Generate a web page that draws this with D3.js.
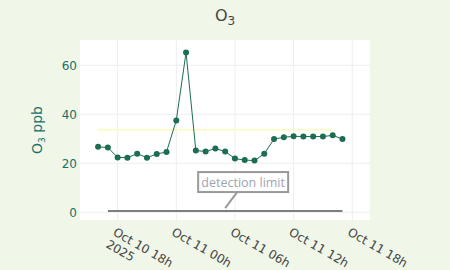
<!DOCTYPE html>
<html>
<head>
<meta charset="utf-8">
<script src="https://cdn.jsdelivr.net/npm/d3@7"></script>
<style>
  html, body { margin: 0; padding: 0; background: #f0f6e8; }
  svg { display: block; font-family: "DejaVu Sans", Verdana, sans-serif; }
</style>
</head>
<body>
<div id="chart"></div>
<script>
// hourly O3 readings, Oct 10 16h .. Oct 11 17h
const START = new Date(2025, 9, 10, 16)
const o3Values = [26.7, 26.4, 22.4, 22.3, 23.9, 22.3, 23.8, 24.6, 37.5, 65.2,
                  25.2, 24.8, 26.0, 24.8, 21.9, 21.3, 21.1, 23.9, 29.9, 30.6,
                  31.0, 30.9, 30.9, 30.9, 31.4, 29.9]
const refLevel = 33.7
const refStart = new Date(2025, 9, 10, 16), refEnd = new Date(2025, 9, 11, 16)
const detLimit = 0.5
const detStart = new Date(2025, 9, 10, 17), detEnd = new Date(2025, 9, 11, 17)
const annotAt = new Date(2025, 9, 11, 5)

const xTicks = [new Date(2025, 9, 10, 18), new Date(2025, 9, 11, 0), new Date(2025, 9, 11, 6),
                new Date(2025, 9, 11, 12), new Date(2025, 9, 11, 18)]
const xTickLabels = [['Oct 10 18h', '2025'], ['Oct 11 00h'], ['Oct 11 06h'], ['Oct 11 12h'], ['Oct 11 18h']]
const yTicks = [0, 20, 40, 60]

const data = o3Values.map((v, i) => ({ t: new Date(START.getTime() + i * 3600e3), v }))

const W = 450, H = 270
const M = { top: 40, right: 80, bottom: 50, left: 80 }

const svg = d3.select('#chart').append('svg').attr('width', W).attr('height', H)

const x = d3.scaleTime()
  .domain([new Date(2025, 9, 10, 14, 9), new Date(2025, 9, 11, 19, 49)])
  .range([M.left, W - M.right])
const y = d3.scaleLinear().domain([-3.15, 70.3]).range([H - M.bottom, M.top])

// plot background
svg.append('rect').attr('x', M.left).attr('y', M.top)
  .attr('width', W - M.left - M.right).attr('height', H - M.top - M.bottom).attr('fill', '#fff')

// ── grid ──────────────────────────────────────────
svg.append('g').selectAll('line').data(xTicks).join('line')
  .attr('x1', d => x(d)).attr('x2', d => x(d)).attr('y1', M.top).attr('y2', H - M.bottom)
  .attr('stroke', '#eee').attr('stroke-width', 1)
svg.append('g').selectAll('line').data(yTicks).join('line')
  .attr('x1', M.left).attr('x2', W - M.right).attr('y1', d => y(d)).attr('y2', d => y(d))
  .attr('stroke', '#eee').attr('stroke-width', 1)

// ── y axis labels ─────────────────────────────────
svg.append('g').selectAll('text').data(yTicks).join('text')
  .attr('x', M.left - 3).attr('y', d => y(d)).attr('dy', '0.36em')
  .attr('text-anchor', 'end').attr('fill', '#17706a').style('font-size', '12px')
  .text(d => d)

const yLab = svg.append('text')
  .attr('transform', `translate(42,${(M.top + H - M.bottom) / 2}) rotate(-90)`)
  .attr('text-anchor', 'middle').attr('fill', '#17706a').style('font-size', '14px')
yLab.append('tspan').text('O')
yLab.append('tspan').attr('dy', 3).style('font-size', '9px').text('3')
yLab.append('tspan').attr('dy', -3).text(' ppb')

// ── x axis labels ─────────────────────────────────
const xl = svg.append('g').selectAll('text').data(xTicks).join('text')
  .attr('transform', d => `translate(${x(d)},${H - M.bottom + 5}) rotate(30)`)
  .attr('fill', '#444').style('font-size', '12px')
xl.each(function (d, i) {
  const t = d3.select(this)
  xTickLabels[i].forEach((s, j) => {
    t.append('tspan').attr('x', 0).attr('y', 11 + j * 14).text(s)
  })
})

// ── reference line ────────────────────────────────
svg.append('line')
  .attr('x1', x(refStart)).attr('x2', x(refEnd)).attr('y1', y(refLevel)).attr('y2', y(refLevel))
  .attr('stroke', '#fafacb').attr('stroke-width', 2)

// ── detection limit ───────────────────────────────
svg.append('line')
  .attr('x1', x(detStart)).attr('x2', x(detEnd)).attr('y1', y(detLimit)).attr('y2', y(detLimit))
  .attr('stroke', '#7f7f7f').attr('stroke-width', 2)

// ── series ────────────────────────────────────────
svg.append('path').datum(data)
  .attr('d', d3.line().x(d => x(d.t)).y(d => y(d.v)))
  .attr('fill', 'none').attr('stroke', '#1b6e50').attr('stroke-width', 1)
svg.append('g').selectAll('circle').data(data).join('circle')
  .attr('cx', d => x(d.t)).attr('cy', d => y(d.v)).attr('r', 3)
  .attr('fill', '#1b6e50')

// ── annotation ────────────────────────────────────
const ax = x(annotAt), ay = y(detLimit)
const bx = ax + 18, by = ay - 29
svg.append('line')
  .attr('x1', ax).attr('y1', ay - 3).attr('x2', bx - 6).attr('y2', by + 10)
  .attr('stroke', '#999').attr('stroke-width', 2)
svg.append('rect')
  .attr('x', bx - 45).attr('y', by - 10).attr('width', 90).attr('height', 20)
  .attr('fill', '#fff').attr('stroke', '#999').attr('stroke-width', 2)
svg.append('text')
  .attr('x', bx).attr('y', by).attr('dy', '0.36em').attr('text-anchor', 'middle')
  .attr('fill', '#9ea3b3').style('font-family', '"Open Sans", sans-serif').style('font-size', '12.5px')
  .text('detection limit')

// ── title ─────────────────────────────────────────
const title = svg.append('text').attr('x', W / 2).attr('y', 21)
  .attr('text-anchor', 'middle').attr('fill', '#444').style('font-size', '16px')
title.append('tspan').text('O')
title.append('tspan').attr('dy', 4).style('font-size', '12px').text('3')
</script>
</body>
</html>
